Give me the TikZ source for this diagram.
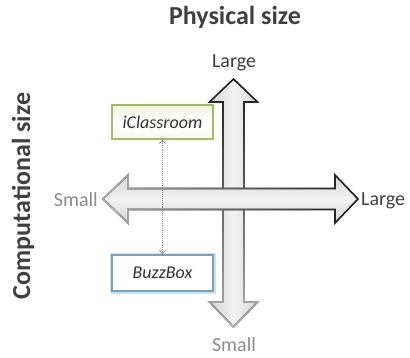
\documentclass[tikz,border=0pt]{standalone}
\usepackage{fontspec}
\setmainfont{Carlito}
\usetikzlibrary{arrows.meta,fadings}
\definecolor{txtdark}{HTML}{404040}
\definecolor{txtlight}{HTML}{8C8C8C}
\definecolor{olivebd}{RGB}{165,185,105}
\definecolor{olivefill}{RGB}{240,244,222}
\definecolor{bluebd}{RGB}{120,160,185}
\definecolor{blueglow}{RGB}{205,226,240}
\tikzfading[name=fadeH, left color=transparent!0, right color=transparent!100]
\tikzfading[name=fadeV, top color=transparent!100, bottom color=transparent!0]
\begin{document}
\begin{tikzpicture}[x=1pt,y=1pt,
  title/.style={font=\fontsize{26}{30}\selectfont\bfseries, text=txtdark, inner sep=0pt},
  axlabel/.style={font=\fontsize{20}{24}\selectfont, inner sep=0pt},
  boxlabel/.style={font=\fontsize{18}{22}\selectfont\itshape, text=black!80, minimum width=101pt, inner sep=0pt},
  arrowline/.style={line width=1.6pt, line join=miter},
  link/.style={draw=black!45, densely dotted, line width=0.9pt, {Straight Barb[length=3pt,width=6pt]}-{Straight Barb[length=3pt,width=6pt]}}
]
\path[use as bounding box] (0,0) rectangle (410,357);

% vertical arrow
\def\varrow{(233.5,278) -- (257.5,255) -- (244,255) -- (244,55) -- (257.5,55) -- (233.5,30) -- (209.5,55) -- (223,55) -- (223,255) -- (209.5,255) -- cycle}
\shade[left color=black!16, right color=black!16, middle color=black!5] \varrow;
\draw[arrowline, black!90] \varrow;
\draw[arrowline, black!30, path fading=fadeV] \varrow;

% horizontal arrow
\def\harrow{(103,158) -- (128,182) -- (128,168.5) -- (335,168.5) -- (335,182) -- (358,158) -- (335,134) -- (335,147.5) -- (128,147.5) -- (128,134) -- cycle}
\shade[top color=black!16, bottom color=black!16, middle color=black!5] \harrow;
\draw[arrowline, black!90] \harrow;
\draw[arrowline, black!30, path fading=fadeH] \harrow;

% titles
\node[title] (phys) at (235,340) {Physical size};
\node[title, rotate=90] (comp) at (23,161) {Computational size};

% axis labels
\node[axlabel, text=txtdark, anchor=base] (ltop) at (234,289) {Large};
\node[axlabel, text=txtdark, anchor=base west] (lright) at (361,152) {Large};
\node[axlabel, text=txtlight, anchor=base east] (sleft) at (98,151) {Small};
\node[axlabel, text=txtlight, anchor=base] (sbot) at (234,6) {Small};

% boxes
\node[boxlabel, minimum height=34pt, draw=olivebd, line width=1.8pt, top color=olivefill, bottom color=olivefill!60!white, middle color=white] (icl) at (162.5,235) {iClassroom};
\draw[blueglow, line width=5pt] (112,66) rectangle (213,102);
\node[boxlabel, minimum height=36pt, draw=bluebd, line width=1.8pt, fill=white] (buzz) at (162.5,84) {BuzzBox};

% connector
\draw[link] (icl.south) -- (buzz.north);
\end{tikzpicture}
\end{document}
